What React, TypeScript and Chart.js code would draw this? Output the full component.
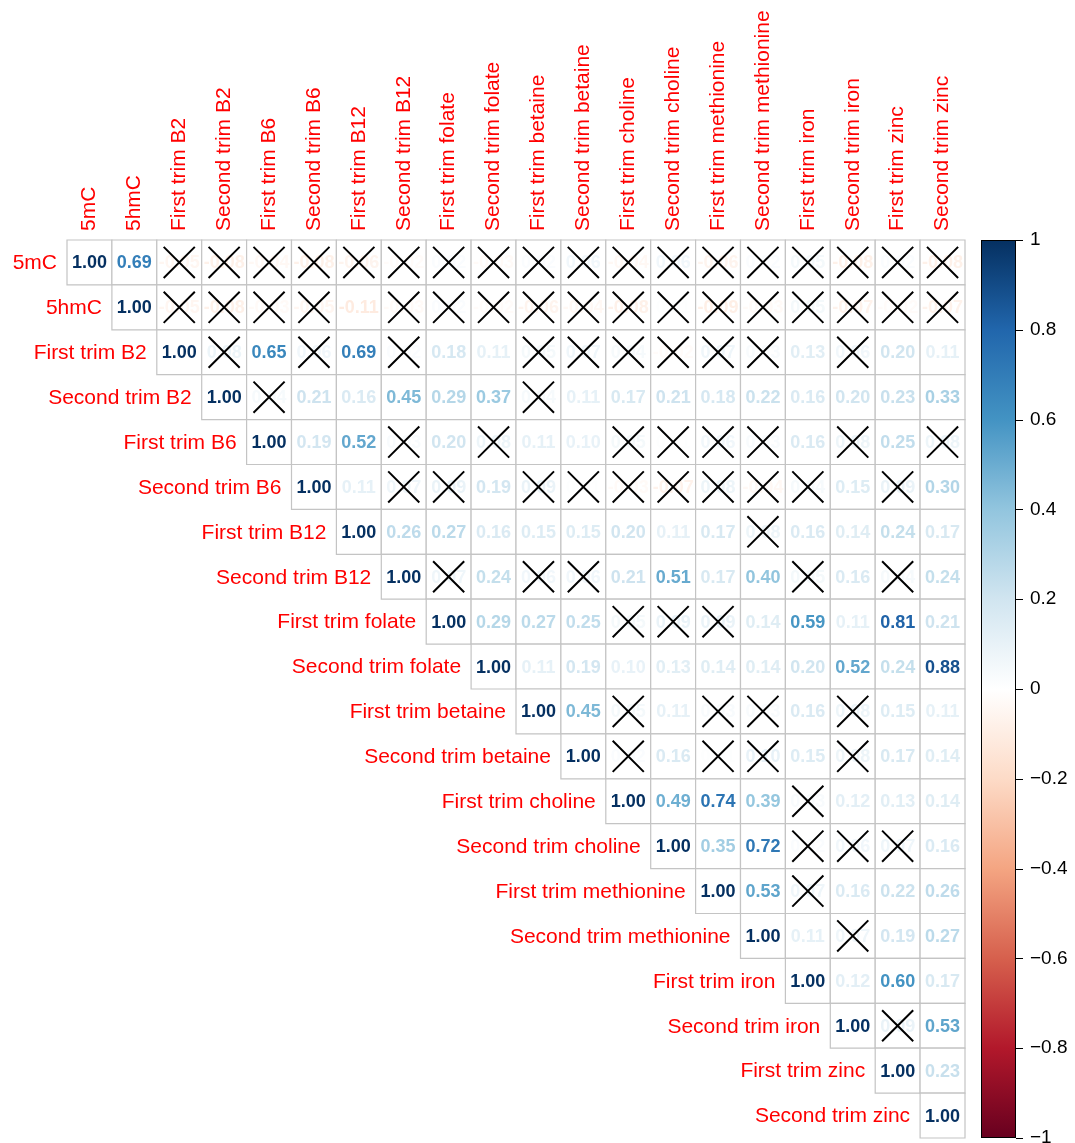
import React, { useEffect, useRef } from "react";
import { Chart, registerables } from "chart.js";

Chart.register(...registerables);

const variables = [
  "5mC", "5hmC", "First trim B2", "Second trim B2", "First trim B6", "Second trim B6",
  "First trim B12", "Second trim B12", "First trim folate", "Second trim folate",
  "First trim betaine", "Second trim betaine", "First trim choline", "Second trim choline",
  "First trim methionine", "Second trim methionine", "First trim iron", "Second trim iron",
  "First trim zinc", "Second trim zinc",
];

// Upper-triangle correlations, each row starting at its diagonal cell
const corrRows: number[][] = [
  [1.00, 0.69, -0.05, -0.08, -0.04, -0.08, -0.06, -0.02, 0.02, -0.03, 0.02, 0.06, -0.04, 0.06, -0.06, 0.02, 0.05, -0.08, 0.02, -0.08],
  [1.00, -0.05, -0.08, -0.03, -0.05, -0.11, -0.03, 0.02, -0.02, -0.06, -0.04, -0.08, 0.01, -0.09, -0.03, 0.05, -0.07, -0.02, -0.07],
  [1.00, 0.08, 0.65, 0.06, 0.69, 0.02, 0.18, 0.11, 0.05, 0.07, 0.04, -0.02, 0.07, 0.03, 0.13, 0.06, 0.20, 0.11],
  [1.00, 0.04, 0.21, 0.16, 0.45, 0.29, 0.37, 0.04, 0.11, 0.17, 0.21, 0.18, 0.22, 0.16, 0.20, 0.23, 0.33],
  [1.00, 0.19, 0.52, 0.03, 0.20, 0.08, 0.11, 0.10, 0.05, 0.01, 0.06, 0.03, 0.16, 0.08, 0.25, 0.08],
  [1.00, 0.11, 0.07, 0.09, 0.19, 0.09, 0.01, -0.03, -0.07, 0.08, -0.04, 0.04, 0.15, 0.09, 0.30],
  [1.00, 0.26, 0.27, 0.16, 0.15, 0.15, 0.20, 0.11, 0.17, 0.08, 0.16, 0.14, 0.24, 0.17],
  [1.00, 0.07, 0.24, 0.06, 0.06, 0.21, 0.51, 0.17, 0.40, 0.05, 0.16, 0.04, 0.24],
  [1.00, 0.29, 0.27, 0.25, 0.05, 0.09, 0.09, 0.14, 0.59, 0.11, 0.81, 0.21],
  [1.00, 0.11, 0.19, 0.10, 0.13, 0.14, 0.14, 0.20, 0.52, 0.24, 0.88],
  [1.00, 0.45, 0.05, 0.11, 0.03, 0.03, 0.16, 0.08, 0.15, 0.11],
  [1.00, 0.02, 0.16, 0.01, 0.10, 0.15, 0.08, 0.17, 0.14],
  [1.00, 0.49, 0.74, 0.39, 0.03, 0.12, 0.13, 0.14],
  [1.00, 0.35, 0.72, 0.02, 0.06, 0.07, 0.16],
  [1.00, 0.53, 0.07, 0.16, 0.22, 0.26],
  [1.00, 0.11, 0.07, 0.19, 0.27],
  [1.00, 0.12, 0.60, 0.17],
  [1.00, 0.09, 0.53],
  [1.00, 0.23],
  [1.00],
];

// Column indices of non-significant cells, per row
const insignificant: number[][] = [
  [2, 3, 4, 5, 6, 7, 8, 9, 10, 11, 12, 13, 14, 15, 16, 17, 18, 19],
  [2, 3, 4, 5, 7, 8, 9, 10, 11, 12, 13, 14, 15, 16, 17, 18, 19],
  [3, 5, 7, 10, 11, 12, 13, 14, 15, 17],
  [4, 10],
  [7, 9, 12, 13, 14, 15, 17, 19],
  [7, 8, 10, 11, 12, 13, 14, 15, 16, 18],
  [15],
  [8, 10, 11, 16, 18],
  [12, 13, 14],
  [],
  [12, 14, 15, 17],
  [12, 14, 15, 17],
  [16],
  [16, 17, 18],
  [16],
  [17],
  [],
  [18],
  [],
  [],
];

const colorbarTicks = [1, 0.8, 0.6, 0.4, 0.2, 0, -0.2, -0.4, -0.6, -0.8, -1];
const paletteStops = [
  "#67001F", "#B2182B", "#D6604D", "#F4A582", "#FDDBC7", "#FFFFFF",
  "#D1E5F0", "#92C5DE", "#4393C3", "#2166AC", "#053061",
];

function hexToRgb(h: string): number[] {
  return [parseInt(h.slice(1, 3), 16), parseInt(h.slice(3, 5), 16), parseInt(h.slice(5, 7), 16)];
}

function colorFor(v: number): string {
  const t = ((v + 1) / 2) * (paletteStops.length - 1);
  const i = Math.max(0, Math.min(paletteStops.length - 2, Math.floor(t)));
  const f = t - i;
  const a = hexToRgb(paletteStops[i]);
  const b = hexToRgb(paletteStops[i + 1]);
  const c = a.map((x, k) => Math.round(x + (b[k] - x) * f));
  return `rgb(${c[0]},${c[1]},${c[2]})`;
}

const FONT = '"Liberation Sans", Arial, Helvetica, sans-serif';

const cellData: { x: number; y: number; v: number }[] = [];
corrRows.forEach((row, i) => row.forEach((v, k) => cellData.push({ x: i + k, y: i, v })));
const crossData: { x: number; y: number }[] = [];
insignificant.forEach((cols, i) => cols.forEach((j) => crossData.push({ x: j, y: i })));

function cellSize(chart: any): number {
  const s = chart.scales.x;
  return Math.abs(s.getPixelForValue(1) - s.getPixelForValue(0));
}

const corrPlugin = {
  id: "corrDecor",
  afterDatasetDraw(chart: any, args: any) {
    if (chart.data.datasets[args.index].label !== "cells") return;
    const ctx = chart.ctx;
    const xs = chart.scales.x;
    const ys = chart.scales.y;
    ctx.save();
    ctx.font = `bold 18px ${FONT}`;
    ctx.textAlign = "center";
    ctx.textBaseline = "middle";
    cellData.forEach((d) => {
      ctx.fillStyle = colorFor(d.v);
      ctx.fillText(d.v.toFixed(2), xs.getPixelForValue(d.x), ys.getPixelForValue(d.y) + 1);
    });
    ctx.restore();
  },
  afterDraw(chart: any) {
    const ctx = chart.ctx;
    const xs = chart.scales.x;
    const ys = chart.scales.y;
    const area = chart.chartArea;
    ctx.save();
    ctx.fillStyle = "#FF0000";
    ctx.font = `21px ${FONT}`;
    // row labels
    ctx.textAlign = "right";
    ctx.textBaseline = "middle";
    variables.forEach((name, i) => {
      ctx.fillText(name, xs.getPixelForValue(i - 0.5) - 10, ys.getPixelForValue(i) + 1);
    });
    // column labels
    variables.forEach((name, j) => {
      ctx.save();
      ctx.translate(xs.getPixelForValue(j), area.top - 9);
      ctx.rotate(-Math.PI / 2);
      ctx.textAlign = "left";
      ctx.textBaseline = "middle";
      ctx.fillText(name, 0, 0);
      ctx.restore();
    });
    // colour bar
    const barL = area.right + 16;
    const barW = 35;
    const top = area.top;
    const h = area.bottom - area.top;
    const grad = ctx.createLinearGradient(0, top, 0, top + h);
    paletteStops.slice().reverse().forEach((c, k) => grad.addColorStop(k / (paletteStops.length - 1), c));
    ctx.fillStyle = grad;
    ctx.fillRect(barL, top, barW, h);
    ctx.strokeStyle = "#000";
    ctx.lineWidth = 1;
    ctx.strokeRect(barL + 0.5, top + 0.5, barW - 1, h - 1);
    ctx.fillStyle = "#000";
    ctx.font = `19px ${FONT}`;
    ctx.textAlign = "left";
    ctx.textBaseline = "middle";
    colorbarTicks.forEach((t) => {
      const y = top + ((1 - t) / 2) * h;
      const yy = Math.round(y) + 0.5;
      ctx.beginPath();
      ctx.moveTo(barL + barW, yy);
      ctx.lineTo(barL + barW + 7, yy);
      ctx.stroke();
      const label = t === 0 ? "0" : t < 0 ? "\u2212" + String(Math.abs(t)) : String(t);
      ctx.fillText(label, barL + barW + 14, y);
    });
    ctx.restore();
  },
};

export default function App() {
  const ref = useRef<HTMLCanvasElement | null>(null);
  useEffect(() => {
    if (!ref.current) return;
    const chart = new Chart(ref.current, {
      type: "scatter",
      data: {
        datasets: [
          {
            label: "cells",
            data: cellData,
            order: 2,
            pointStyle: "rect",
            radius: (c: any) => cellSize(c.chart) / Math.SQRT2,
            hoverRadius: (c: any) => cellSize(c.chart) / Math.SQRT2,
            backgroundColor: "#FFFFFF",
            borderColor: "#C4C4C4",
            borderWidth: 1.2,
            clip: false,
          } as any,
          {
            label: "crosses",
            data: crossData,
            order: 1,
            pointStyle: "crossRot",
            radius: (c: any) => cellSize(c.chart) * 0.49,
            hoverRadius: (c: any) => cellSize(c.chart) * 0.49,
            borderColor: "#000000",
            backgroundColor: "#000000",
            borderWidth: 2,
            clip: false,
          } as any,
        ],
      },
      options: {
        animation: false,
        responsive: false,
        events: [],
        layout: { padding: { left: 67, top: 240, right: 110, bottom: 5 } },
        scales: {
          x: { type: "linear", min: -0.5, max: 19.5, display: false },
          y: { type: "linear", min: -0.5, max: 19.5, reverse: true, display: false },
        },
        plugins: { legend: { display: false }, tooltip: { enabled: false } },
      },
      plugins: [corrPlugin],
    });
    return () => chart.destroy();
  }, []);
  return (
    <div style={{ position: "absolute", left: 0, top: 0, width: 1075, height: 1143, background: "#fff" }}>
      <canvas ref={ref} width={1075} height={1143} />
    </div>
  );
}
